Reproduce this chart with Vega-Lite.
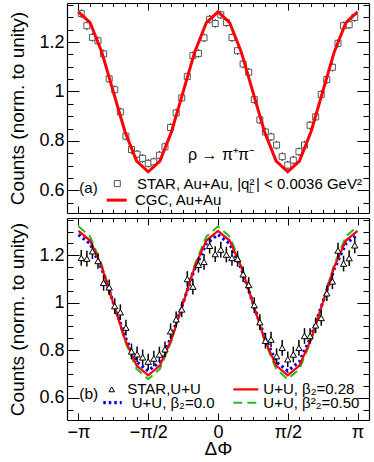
{
  "$schema": "https://vega.github.io/schema/vega-lite/v6.json",
  "background": "white",
  "padding": {"left": 8, "top": 2, "right": 4, "bottom": 0},
  "spacing": 3,
  "config": {
    "font": "Liberation Sans",
    "view": {"stroke": null},
    "axis": {
      "grid": false, "domainColor": "black", "domainWidth": 1.2, "tickColor": "black", "tickWidth": 1,
      "labelColor": "black", "titleColor": "black", "labelFont": "Liberation Sans", "titleFont": "Liberation Sans",
      "labelFontSize": 18, "titleFontSize": 19, "titleFontWeight": "normal", "labelOverlap": false, "labelBound": false, "labelFlush": false
    },
    "text": {"font": "Liberation Sans", "color": "black"}
  },
  "datasets": {
    "auau": [
      {"x": -3.0788, "y": 1.315, "lo": 1.298, "hi": 1.332},
      {"x": -2.9531, "y": 1.266, "lo": 1.249, "hi": 1.283},
      {"x": -2.8274, "y": 1.219, "lo": 1.202, "hi": 1.236},
      {"x": -2.7018, "y": 1.205, "lo": 1.188, "hi": 1.222},
      {"x": -2.5761, "y": 1.152, "lo": 1.135, "hi": 1.169},
      {"x": -2.4504, "y": 1.051, "lo": 1.034, "hi": 1.068},
      {"x": -2.3248, "y": 1.007, "lo": 0.990, "hi": 1.024},
      {"x": -2.1991, "y": 0.917, "lo": 0.900, "hi": 0.934},
      {"x": -2.0735, "y": 0.819, "lo": 0.802, "hi": 0.836},
      {"x": -1.9478, "y": 0.765, "lo": 0.748, "hi": 0.782},
      {"x": -1.8221, "y": 0.746, "lo": 0.729, "hi": 0.763},
      {"x": -1.6965, "y": 0.729, "lo": 0.712, "hi": 0.746},
      {"x": -1.5708, "y": 0.709, "lo": 0.692, "hi": 0.726},
      {"x": -1.4451, "y": 0.715, "lo": 0.698, "hi": 0.732},
      {"x": -1.3195, "y": 0.742, "lo": 0.725, "hi": 0.759},
      {"x": -1.1938, "y": 0.776, "lo": 0.759, "hi": 0.793},
      {"x": -1.0681, "y": 0.854, "lo": 0.837, "hi": 0.871},
      {"x": -0.9425, "y": 0.913, "lo": 0.896, "hi": 0.930},
      {"x": -0.8168, "y": 0.974, "lo": 0.957, "hi": 0.991},
      {"x": -0.6912, "y": 1.060, "lo": 1.043, "hi": 1.077},
      {"x": -0.5655, "y": 1.145, "lo": 1.128, "hi": 1.162},
      {"x": -0.4398, "y": 1.154, "lo": 1.137, "hi": 1.171},
      {"x": -0.3142, "y": 1.217, "lo": 1.200, "hi": 1.234},
      {"x": -0.1885, "y": 1.292, "lo": 1.275, "hi": 1.309},
      {"x": -0.0628, "y": 1.275, "lo": 1.258, "hi": 1.292},
      {"x": 0.0628, "y": 1.310, "lo": 1.293, "hi": 1.327},
      {"x": 0.1885, "y": 1.279, "lo": 1.262, "hi": 1.296},
      {"x": 0.3142, "y": 1.218, "lo": 1.201, "hi": 1.235},
      {"x": 0.4398, "y": 1.165, "lo": 1.148, "hi": 1.182},
      {"x": 0.5655, "y": 1.111, "lo": 1.094, "hi": 1.128},
      {"x": 0.6912, "y": 1.078, "lo": 1.061, "hi": 1.095},
      {"x": 0.8168, "y": 0.967, "lo": 0.950, "hi": 0.984},
      {"x": 0.9425, "y": 0.885, "lo": 0.868, "hi": 0.902},
      {"x": 1.0681, "y": 0.836, "lo": 0.819, "hi": 0.853},
      {"x": 1.1938, "y": 0.816, "lo": 0.799, "hi": 0.833},
      {"x": 1.3195, "y": 0.783, "lo": 0.766, "hi": 0.800},
      {"x": 1.4451, "y": 0.736, "lo": 0.719, "hi": 0.753},
      {"x": 1.5708, "y": 0.702, "lo": 0.685, "hi": 0.719},
      {"x": 1.6965, "y": 0.722, "lo": 0.705, "hi": 0.739},
      {"x": 1.8221, "y": 0.756, "lo": 0.739, "hi": 0.773},
      {"x": 1.9478, "y": 0.783, "lo": 0.766, "hi": 0.800},
      {"x": 2.0735, "y": 0.863, "lo": 0.846, "hi": 0.880},
      {"x": 2.1991, "y": 0.897, "lo": 0.880, "hi": 0.914},
      {"x": 2.3248, "y": 0.988, "lo": 0.971, "hi": 1.005},
      {"x": 2.4504, "y": 1.048, "lo": 1.031, "hi": 1.065},
      {"x": 2.5761, "y": 1.098, "lo": 1.081, "hi": 1.115},
      {"x": 2.7018, "y": 1.195, "lo": 1.178, "hi": 1.212},
      {"x": 2.8274, "y": 1.266, "lo": 1.249, "hi": 1.283},
      {"x": 2.9531, "y": 1.270, "lo": 1.253, "hi": 1.287},
      {"x": 3.0788, "y": 1.299, "lo": 1.282, "hi": 1.316}
    ],
    "uu": [
      {"x": -3.0788, "y": 1.189, "lo": 1.156, "hi": 1.222},
      {"x": -2.9531, "y": 1.186, "lo": 1.153, "hi": 1.219},
      {"x": -2.8274, "y": 1.217, "lo": 1.184, "hi": 1.250},
      {"x": -2.7018, "y": 1.176, "lo": 1.143, "hi": 1.209},
      {"x": -2.5761, "y": 1.084, "lo": 1.051, "hi": 1.117},
      {"x": -2.4504, "y": 1.065, "lo": 1.032, "hi": 1.098},
      {"x": -2.3248, "y": 0.986, "lo": 0.953, "hi": 1.019},
      {"x": -2.1991, "y": 0.960, "lo": 0.927, "hi": 0.993},
      {"x": -2.0735, "y": 0.895, "lo": 0.862, "hi": 0.928},
      {"x": -1.9478, "y": 0.795, "lo": 0.762, "hi": 0.828},
      {"x": -1.8221, "y": 0.783, "lo": 0.750, "hi": 0.816},
      {"x": -1.6965, "y": 0.770, "lo": 0.737, "hi": 0.803},
      {"x": -1.5708, "y": 0.752, "lo": 0.719, "hi": 0.785},
      {"x": -1.4451, "y": 0.765, "lo": 0.732, "hi": 0.798},
      {"x": -1.3195, "y": 0.782, "lo": 0.749, "hi": 0.815},
      {"x": -1.1938, "y": 0.804, "lo": 0.771, "hi": 0.837},
      {"x": -1.0681, "y": 0.880, "lo": 0.847, "hi": 0.913},
      {"x": -0.9425, "y": 0.930, "lo": 0.897, "hi": 0.963},
      {"x": -0.8168, "y": 0.972, "lo": 0.939, "hi": 1.005},
      {"x": -0.6912, "y": 1.100, "lo": 1.067, "hi": 1.133},
      {"x": -0.5655, "y": 1.068, "lo": 1.035, "hi": 1.101},
      {"x": -0.4398, "y": 1.160, "lo": 1.127, "hi": 1.193},
      {"x": -0.3142, "y": 1.172, "lo": 1.139, "hi": 1.205},
      {"x": -0.1885, "y": 1.240, "lo": 1.207, "hi": 1.273},
      {"x": -0.0628, "y": 1.205, "lo": 1.172, "hi": 1.238},
      {"x": 0.0628, "y": 1.224, "lo": 1.191, "hi": 1.257},
      {"x": 0.1885, "y": 1.203, "lo": 1.170, "hi": 1.236},
      {"x": 0.3142, "y": 1.189, "lo": 1.156, "hi": 1.222},
      {"x": 0.4398, "y": 1.185, "lo": 1.152, "hi": 1.218},
      {"x": 0.5655, "y": 1.120, "lo": 1.087, "hi": 1.153},
      {"x": 0.6912, "y": 1.075, "lo": 1.042, "hi": 1.108},
      {"x": 0.8168, "y": 0.990, "lo": 0.957, "hi": 1.023},
      {"x": 0.9425, "y": 0.918, "lo": 0.885, "hi": 0.951},
      {"x": 1.0681, "y": 0.840, "lo": 0.807, "hi": 0.873},
      {"x": 1.1938, "y": 0.845, "lo": 0.812, "hi": 0.878},
      {"x": 1.3195, "y": 0.775, "lo": 0.742, "hi": 0.808},
      {"x": 1.4451, "y": 0.810, "lo": 0.777, "hi": 0.843},
      {"x": 1.5708, "y": 0.762, "lo": 0.729, "hi": 0.795},
      {"x": 1.6965, "y": 0.782, "lo": 0.749, "hi": 0.815},
      {"x": 1.8221, "y": 0.810, "lo": 0.777, "hi": 0.843},
      {"x": 1.9478, "y": 0.860, "lo": 0.827, "hi": 0.893},
      {"x": 2.0735, "y": 0.860, "lo": 0.827, "hi": 0.893},
      {"x": 2.1991, "y": 0.905, "lo": 0.872, "hi": 0.938},
      {"x": 2.3248, "y": 0.936, "lo": 0.903, "hi": 0.969},
      {"x": 2.4504, "y": 1.040, "lo": 1.007, "hi": 1.073},
      {"x": 2.5761, "y": 1.090, "lo": 1.057, "hi": 1.123},
      {"x": 2.7018, "y": 1.220, "lo": 1.187, "hi": 1.253},
      {"x": 2.8274, "y": 1.165, "lo": 1.132, "hi": 1.198},
      {"x": 2.9531, "y": 1.188, "lo": 1.155, "hi": 1.221},
      {"x": 3.0788, "y": 1.242, "lo": 1.209, "hi": 1.275}
    ],
    "model": [
      {"x": -3.1416, "b0": 1.287, "b28": 1.303, "b50": 1.322, "cgc": 1.322},
      {"x": -2.8798, "b0": 1.249, "b28": 1.262, "b50": 1.279, "cgc": 1.279},
      {"x": -2.6180, "b0": 1.144, "b28": 1.151, "b50": 1.161, "cgc": 1.160},
      {"x": -2.3562, "b0": 1.000, "b28": 0.998, "b50": 1.000, "cgc": 0.998},
      {"x": -2.0944, "b0": 0.857, "b28": 0.846, "b50": 0.839, "cgc": 0.837},
      {"x": -1.8326, "b0": 0.751, "b28": 0.735, "b50": 0.721, "cgc": 0.718},
      {"x": -1.5708, "b0": 0.713, "b28": 0.694, "b50": 0.678, "cgc": 0.675},
      {"x": -1.3090, "b0": 0.751, "b28": 0.735, "b50": 0.721, "cgc": 0.718},
      {"x": -1.0472, "b0": 0.857, "b28": 0.846, "b50": 0.839, "cgc": 0.837},
      {"x": -0.7854, "b0": 1.000, "b28": 0.998, "b50": 1.000, "cgc": 0.998},
      {"x": -0.5236, "b0": 1.144, "b28": 1.151, "b50": 1.161, "cgc": 1.160},
      {"x": -0.2618, "b0": 1.249, "b28": 1.262, "b50": 1.279, "cgc": 1.279},
      {"x": 0.0, "b0": 1.287, "b28": 1.303, "b50": 1.322, "cgc": 1.322},
      {"x": 0.2618, "b0": 1.249, "b28": 1.262, "b50": 1.279, "cgc": 1.279},
      {"x": 0.5236, "b0": 1.144, "b28": 1.151, "b50": 1.161, "cgc": 1.160},
      {"x": 0.7854, "b0": 1.000, "b28": 0.998, "b50": 1.000, "cgc": 0.998},
      {"x": 1.0472, "b0": 0.857, "b28": 0.846, "b50": 0.839, "cgc": 0.837},
      {"x": 1.3090, "b0": 0.751, "b28": 0.735, "b50": 0.721, "cgc": 0.718},
      {"x": 1.5708, "b0": 0.713, "b28": 0.694, "b50": 0.678, "cgc": 0.675},
      {"x": 1.8326, "b0": 0.751, "b28": 0.735, "b50": 0.721, "cgc": 0.718},
      {"x": 2.0944, "b0": 0.857, "b28": 0.846, "b50": 0.839, "cgc": 0.837},
      {"x": 2.3562, "b0": 1.000, "b28": 0.998, "b50": 1.000, "cgc": 0.998},
      {"x": 2.6180, "b0": 1.144, "b28": 1.151, "b50": 1.161, "cgc": 1.160},
      {"x": 2.8798, "b0": 1.249, "b28": 1.262, "b50": 1.279, "cgc": 1.279},
      {"x": 3.1416, "b0": 1.287, "b28": 1.303, "b50": 1.322, "cgc": 1.322}
    ],
    "one": [{}]
  },
  "vconcat": [
    {
      "width": 302, "height": 210,
      "resolve": {"axis": {"x": "independent", "y": "independent"}},
      "layer": [
        {
          "data": {"name": "auau"},
          "mark": {"type": "rule", "color": "black", "strokeWidth": 1},
          "encoding": {
            "x": {"field": "x", "type": "quantitative", "scale": {"domain": [-3.4, 3.4], "nice": false, "zero": false},
              "axis": {"orient": "bottom", "title": null, "labels": false, "values": [-3.1415927,-1.5707963,0,1.5707963,3.1415927], "tickSize": -7}},
            "y": {"field": "lo", "type": "quantitative", "scale": {"domain": [0.508, 1.358], "nice": false, "zero": false},
              "axis": {"orient": "left", "title": "Counts (norm. to unity)", "titlePadding": 11, "format": "~g", "labelPadding": 15, "values": [0.6,0.8,1,1.2], "tickSize": -12}},
            "y2": {"field": "hi"}
          }
        },
        {
          "data": {"name": "auau"},
          "mark": {"type": "point", "shape": "square", "size": 36, "filled": true, "fill": "white", "stroke": "#555555", "strokeWidth": 1, "opacity": 1},
          "encoding": {
            "x": {"field": "x", "type": "quantitative",
              "axis": {"orient": "top", "title": null, "labels": false, "values": [-3.1415927,-1.5707963,0,1.5707963,3.1415927], "tickSize": -7}},
            "y": {"field": "y", "type": "quantitative",
              "axis": {"orient": "right", "title": null, "labels": false, "values": [0.6,0.8,1,1.2], "tickSize": -12}}
          }
        },
        {
          "data": {"name": "model"},
          "mark": {"type": "line", "color": "#ff0000", "strokeWidth": 3},
          "encoding": {
            "x": {"field": "x", "type": "quantitative",
              "axis": {"orient": "bottom", "title": null, "labels": false, "domain": false, "tickSize": -3.5,
                "values": [-3.1415927,-2.8797933,-2.6179939,-2.3561945,-2.0943951,-1.8325957,-1.5707963,-1.3089969,-1.0471976,-0.7853982,-0.5235988,-0.2617994,0,0.2617994,0.5235988,0.7853982,1.0471976,1.3089969,1.5707963,1.8325957,2.0943951,2.3561945,2.6179939,2.8797933,3.1415927]}},
            "y": {"field": "cgc", "type": "quantitative",
              "axis": {"orient": "left", "title": null, "labels": false, "domain": false, "tickSize": -6,
                "values": [0.55,0.6,0.65,0.7,0.75,0.8,0.85,0.9,0.95,1,1.05,1.1,1.15,1.2,1.25,1.3,1.35]}}
          }
        },
        {
          "data": {"name": "one"},
          "mark": {"type": "text", "text": "(a)", "align": "left", "baseline": "middle", "fontSize": 15},
          "encoding": {
            "x": {"datum": -3.123, "type": "quantitative",
              "axis": {"orient": "top", "title": null, "labels": false, "domain": false, "tickSize": -3.5,
                "values": [-3.1415927,-2.8797933,-2.6179939,-2.3561945,-2.0943951,-1.8325957,-1.5707963,-1.3089969,-1.0471976,-0.7853982,-0.5235988,-0.2617994,0,0.2617994,0.5235988,0.7853982,1.0471976,1.3089969,1.5707963,1.8325957,2.0943951,2.3561945,2.6179939,2.8797933,3.1415927]}},
            "y": {"datum": 0.611, "type": "quantitative",
              "axis": {"orient": "right", "title": null, "labels": false, "domain": false, "tickSize": -6,
                "values": [0.55,0.6,0.65,0.7,0.75,0.8,0.85,0.9,0.95,1,1.05,1.1,1.15,1.2,1.25,1.3,1.35]}}
          }
        },
        {
          "data": {"name": "one"},
          "mark": {"type": "point", "shape": "square", "size": 36, "filled": true, "fill": "white", "stroke": "#555555", "strokeWidth": 1, "opacity": 1},
          "encoding": {"x": {"datum": -2.267, "type": "quantitative", "axis": null}, "y": {"datum": 0.627, "type": "quantitative", "axis": null}}
        },
        {
          "data": {"name": "one"},
          "mark": {"type": "text", "text": "STAR, Au+Au, |q²", "align": "right", "baseline": "middle", "fontSize": 15},
          "encoding": {"x": {"datum": 0.82, "type": "quantitative", "axis": null}, "y": {"datum": 0.627, "type": "quantitative", "axis": null}}
        },
        {
          "data": {"name": "one"},
          "mark": {"type": "text", "text": "⊥", "align": "right", "baseline": "middle", "fontSize": 10, "dx": 0.5, "dy": 6},
          "encoding": {"x": {"datum": 0.82, "type": "quantitative", "axis": null}, "y": {"datum": 0.627, "type": "quantitative", "axis": null}}
        },
        {
          "data": {"name": "one"},
          "mark": {"type": "text", "text": "| < 0.0036 GeV²", "align": "left", "baseline": "middle", "fontSize": 15, "dx": 1.5},
          "encoding": {"x": {"datum": 0.82, "type": "quantitative", "axis": null}, "y": {"datum": 0.627, "type": "quantitative", "axis": null}}
        },
        {
          "data": {"name": "one"},
          "mark": {"type": "rule", "color": "#ff0000", "strokeWidth": 3},
          "encoding": {"x": {"datum": -2.506, "type": "quantitative", "axis": null}, "x2": {"datum": -2.056}, "y": {"datum": 0.560, "type": "quantitative", "axis": null}}
        },
        {
          "data": {"name": "one"},
          "mark": {"type": "text", "text": "CGC, Au+Au", "align": "left", "baseline": "middle", "fontSize": 15},
          "encoding": {"x": {"datum": -1.869, "type": "quantitative", "axis": null}, "y": {"datum": 0.560, "type": "quantitative", "axis": null}}
        },
        {
          "data": {"name": "one"},
          "mark": {"type": "text", "text": "ρ → π⁺π⁻", "align": "left", "baseline": "middle", "fontSize": 16},
          "encoding": {"x": {"datum": -0.676, "type": "quantitative", "axis": null}, "y": {"datum": 0.744, "type": "quantitative", "axis": null}}
        }
      ]
    },
    {
      "width": 302, "height": 202,
      "resolve": {"axis": {"x": "independent", "y": "independent"}},
      "layer": [
        {
          "data": {"name": "model"},
          "mark": {"type": "line", "color": "#22bb22", "strokeWidth": 2, "strokeDash": [9, 5]},
          "encoding": {
            "x": {"field": "x", "type": "quantitative", "scale": {"domain": [-3.4, 3.4], "nice": false, "zero": false},
              "axis": {"orient": "top", "title": null, "labels": false, "values": [-3.1415927,-1.5707963,0,1.5707963,3.1415927], "tickSize": -7}},
            "y": {"field": "b50", "type": "quantitative", "scale": {"domain": [0.506, 1.357], "nice": false, "zero": false},
              "axis": {"orient": "right", "title": null, "labels": false, "values": [0.6,0.8,1,1.2], "tickSize": -12}}
          }
        },
        {
          "data": {"name": "model"},
          "mark": {"type": "line", "color": "#0000ff", "strokeWidth": 3.2, "strokeDash": [2.5, 3]},
          "encoding": {
            "x": {"field": "x", "type": "quantitative",
              "axis": {"orient": "top", "title": null, "labels": false, "domain": false, "tickSize": -3.5,
                "values": [-3.1415927,-2.8797933,-2.6179939,-2.3561945,-2.0943951,-1.8325957,-1.5707963,-1.3089969,-1.0471976,-0.7853982,-0.5235988,-0.2617994,0,0.2617994,0.5235988,0.7853982,1.0471976,1.3089969,1.5707963,1.8325957,2.0943951,2.3561945,2.6179939,2.8797933,3.1415927]}},
            "y": {"field": "b0", "type": "quantitative",
              "axis": {"orient": "right", "title": null, "labels": false, "domain": false, "tickSize": -6,
                "values": [0.55,0.6,0.65,0.7,0.75,0.8,0.85,0.9,0.95,1,1.05,1.1,1.15,1.2,1.25,1.3,1.35]}}
          }
        },
        {
          "data": {"name": "model"},
          "mark": {"type": "line", "color": "#ff0000", "strokeWidth": 2.2},
          "encoding": {
            "x": {"field": "x", "type": "quantitative",
              "axis": {"orient": "bottom", "title": null, "labels": false, "domain": false, "tickSize": -3.5,
                "values": [-3.1415927,-2.8797933,-2.6179939,-2.3561945,-2.0943951,-1.8325957,-1.5707963,-1.3089969,-1.0471976,-0.7853982,-0.5235988,-0.2617994,0,0.2617994,0.5235988,0.7853982,1.0471976,1.3089969,1.5707963,1.8325957,2.0943951,2.3561945,2.6179939,2.8797933,3.1415927]}},
            "y": {"field": "b28", "type": "quantitative",
              "axis": {"orient": "left", "title": null, "labels": false, "domain": false, "tickSize": -6,
                "values": [0.55,0.6,0.65,0.7,0.75,0.8,0.85,0.9,0.95,1,1.05,1.1,1.15,1.2,1.25,1.3,1.35]}}
          }
        },
        {
          "data": {"name": "uu"},
          "mark": {"type": "rule", "color": "black", "strokeWidth": 1.5},
          "encoding": {
            "x": {"field": "x", "type": "quantitative",
              "axis": {"orient": "bottom", "title": "ΔΦ", "titlePadding": -2, "labelPadding": 10, "tickSize": -7,
                "values": [-3.1415927,-1.5707963,0,1.5707963,3.1415927],
                "labelExpr": "abs(datum.value) < 0.01 ? '0' : abs(datum.value - 1.5708) < 0.01 ? 'π/2' : abs(datum.value + 1.5708) < 0.01 ? '−π/2' : abs(datum.value - 3.1416) < 0.01 ? 'π' : '−π'"}},
            "y": {"field": "lo", "type": "quantitative",
              "axis": {"orient": "left", "title": "Counts (norm. to unity)", "titlePadding": 11, "format": "~g", "labelPadding": 15, "values": [0.6,0.8,1,1.2], "tickSize": -12}},
            "y2": {"field": "hi"}
          }
        },
        {
          "data": {"name": "uu"},
          "mark": {"type": "point", "shape": "triangle-up", "size": 40, "filled": true, "fill": "white", "stroke": "black", "strokeWidth": 1, "opacity": 1},
          "encoding": {
            "x": {"field": "x", "type": "quantitative", "axis": null},
            "y": {"field": "y", "type": "quantitative", "axis": null}
          }
        },
        {
          "data": {"name": "one"},
          "mark": {"type": "text", "text": "(b)", "align": "left", "baseline": "middle", "fontSize": 15.5},
          "encoding": {"x": {"datum": -3.123, "type": "quantitative", "axis": null}, "y": {"datum": 0.614, "type": "quantitative", "axis": null}}
        },
        {
          "data": {"name": "one"},
          "mark": {"type": "point", "shape": "triangle-up", "size": 30, "filled": true, "fill": "white", "stroke": "black", "strokeWidth": 1, "opacity": 1},
          "encoding": {"x": {"datum": -2.393, "type": "quantitative", "axis": null}, "y": {"datum": 0.635, "type": "quantitative", "axis": null}}
        },
        {
          "data": {"name": "one"},
          "mark": {"type": "text", "text": "STAR,U+U", "align": "left", "baseline": "middle", "fontSize": 15},
          "encoding": {"x": {"datum": -2.042, "type": "quantitative", "axis": null}, "y": {"datum": 0.635, "type": "quantitative", "axis": null}}
        },
        {
          "data": {"name": "one"},
          "mark": {"type": "rule", "color": "#0000ff", "strokeWidth": 3.2, "strokeDash": [2.5, 3]},
          "encoding": {"x": {"datum": -2.583, "type": "quantitative", "axis": null}, "x2": {"datum": -2.168}, "y": {"datum": 0.579, "type": "quantitative", "axis": null}}
        },
        {
          "data": {"name": "one"},
          "mark": {"type": "text", "text": "U+U, β₂=0.0", "align": "left", "baseline": "middle", "fontSize": 15},
          "encoding": {"x": {"datum": -1.943, "type": "quantitative", "axis": null}, "y": {"datum": 0.579, "type": "quantitative", "axis": null}}
        },
        {
          "data": {"name": "one"},
          "mark": {"type": "rule", "color": "#ff0000", "strokeWidth": 2.2},
          "encoding": {"x": {"datum": 0.345, "type": "quantitative", "axis": null}, "x2": {"datum": 0.908}, "y": {"datum": 0.635, "type": "quantitative", "axis": null}}
        },
        {
          "data": {"name": "one"},
          "mark": {"type": "text", "text": "U+U, β₂=0.28", "align": "left", "baseline": "middle", "fontSize": 15},
          "encoding": {"x": {"datum": 1.02, "type": "quantitative", "axis": null}, "y": {"datum": 0.635, "type": "quantitative", "axis": null}}
        },
        {
          "data": {"name": "one"},
          "mark": {"type": "rule", "color": "#22bb22", "strokeWidth": 2, "strokeDash": [9, 5]},
          "encoding": {"x": {"datum": 0.345, "type": "quantitative", "axis": null}, "x2": {"datum": 0.908}, "y": {"datum": 0.579, "type": "quantitative", "axis": null}}
        },
        {
          "data": {"name": "one"},
          "mark": {"type": "text", "text": "U+U, β²₂=0.50", "align": "left", "baseline": "middle", "fontSize": 15},
          "encoding": {"x": {"datum": 1.02, "type": "quantitative", "axis": null}, "y": {"datum": 0.579, "type": "quantitative", "axis": null}}
        }
      ]
    }
  ]
}
